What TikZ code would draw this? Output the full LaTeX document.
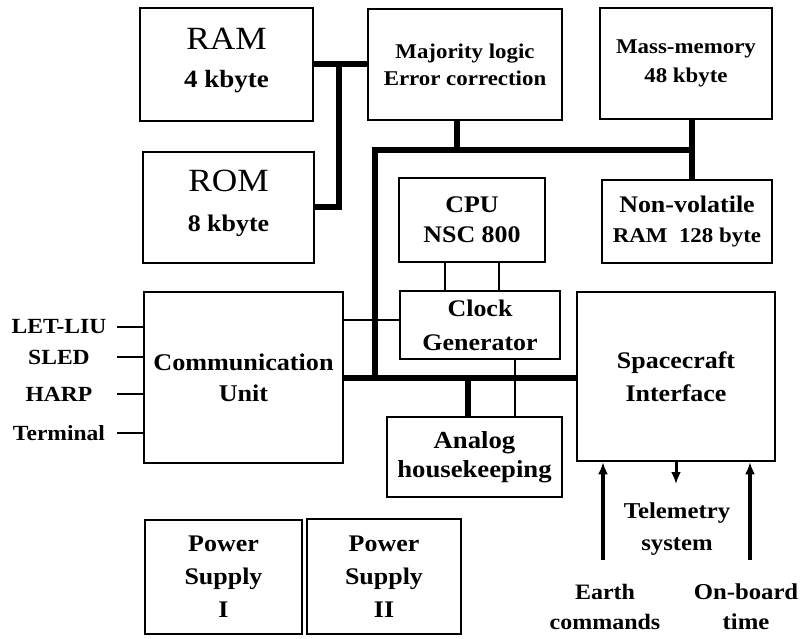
\documentclass[tikz,border=0pt]{standalone}
\usepackage{fontspec}
\setmainfont{Liberation Serif}[FakeStretch=1.09]
\usetikzlibrary{arrows.meta,calc}
\tikzset{
  box/.style={draw, line width=2.5pt, rectangle, inner sep=0pt, align=center,
              font=\bfseries\fontsize{22.7}{30}\selectfont},
  bus/.style={line width=6pt, line join=miter},
  ln/.style={line width=2.2pt},
  lbl/.style={inner sep=0pt, align=center, font=\bfseries\fontsize{21.6}{30}\selectfont},
  arr/.style={line width=3.5pt, -{Latex[length=12pt,width=10pt]}},
}
\begin{document}
\begin{tikzpicture}[x=1pt,y=-1pt]
\useasboundingbox (0,0) rectangle (806,639);

% boxes
\node[box, minimum width=173pt, minimum height=113pt, text depth=14pt, font=\fontsize{32.4}{38}\selectfont]
  (RAM) at (226.5,64.5) {RAM\\{\bfseries\fontsize{24.8}{38}\selectfont 4 kbyte}};
\node[box, minimum width=171pt, minimum height=111pt, text depth=13pt, font=\fontsize{32.4}{40}\selectfont]
  (ROM) at (228.5,207.5) {ROM\\{\bfseries\fontsize{23.8}{40}\selectfont 8 kbyte}};
\node[box, minimum width=194pt, minimum height=111pt, font=\bfseries\fontsize{21}{27}\selectfont]
  (Maj) at (465,64.5) {Majority logic\\Error correction};
\node[box, minimum width=172pt, minimum height=111pt, font=\bfseries\fontsize{21}{29}\selectfont]
  (Mass) at (686,63.5) {Mass-memory\\48 kbyte};
\node[box, minimum width=146pt, minimum height=84pt, font=\bfseries\fontsize{23.8}{30}\selectfont]
  (CPU) at (472,220) {CPU\\NSC 800};
\node[box, minimum width=170pt, minimum height=83pt, font=\bfseries\fontsize{23.8}{30}\selectfont]
  (NV) at (687,221.5) {Non-volatile\\{\fontsize{21}{30}\selectfont RAM~~128 byte}};
\node[box, minimum width=160pt, minimum height=68pt, font=\bfseries\fontsize{23.8}{34}\selectfont]
  (Clock) at (480,325) {Clock\\Generator};
\node[box, minimum width=198pt, minimum height=169pt, font=\bfseries\fontsize{23.8}{33}\selectfont]
  (SI) at (676,376.5) {Spacecraft\\Interface};
\node[box, minimum width=175pt, minimum height=80pt, font=\bfseries\fontsize{24.5}{29}\selectfont]
  (Analog) at (474.5,457) {Analog\\housekeeping};
\node[box, minimum width=199pt, minimum height=171pt, font=\bfseries\fontsize{24}{31}\selectfont]
  (Comm) at (243.5,377.5) {Communication\\Unit};
\node[box, minimum width=157pt, minimum height=114pt, font=\bfseries\fontsize{23.8}{33}\selectfont]
  (PS1) at (223.5,577) {Power\\Supply\\I};
\node[box, minimum width=154pt, minimum height=115pt, font=\bfseries\fontsize{23.8}{33}\selectfont]
  (PS2) at (384,576.5) {Power\\Supply\\II};

% left labels
\node[lbl] (LET) at (59,327) {LET-LIU};
\node[lbl] (SLED) at (59,357) {SLED};
\node[lbl] (HARP) at (59,394) {HARP};
\node[lbl] (Term) at (59,433) {Terminal};
\coordinate (l1) at (117,327);
\coordinate (l2) at (117,357);
\coordinate (l3) at (117,394);
\coordinate (l4) at (117,433);
\foreach \c in {l1,l2,l3,l4} \draw[ln] (\c) -- (\c -| Comm.west);

% bottom labels
\node[lbl, font=\bfseries\fontsize{22.7}{32}\selectfont] (Tel) at (677,529) {Telemetry\\system};
\node[lbl, font=\bfseries\fontsize{22}{30}\selectfont] (Earth) at (605,607) {Earth\\commands};
\node[lbl, font=\bfseries\fontsize{22.7}{30}\selectfont] (Onb) at (746,607) {On-board\\time};

% memory bus
\coordinate (j1) at (339,64.5);
\draw[bus] (RAM.east) -- (Maj.west);
\draw[bus] (j1) |- (ROM.east);

% main bus
\coordinate (tl) at (375,150);
\coordinate (mj) at ([xshift=-8pt]Maj.south);
\coordinate (ms) at ([xshift=6pt]Mass.south);
\draw[bus] (mj) -- (mj |- tl);
\draw[bus] (ms) -- (ms |- NV.north);
\draw[bus] (ms |- tl) -- (tl) -- (tl |- Comm.east);
\draw[bus] (Comm.east) -- (Comm.east -| SI.west);
\coordinate (an) at ([xshift=-6.5pt]Analog.north);
\draw[bus] (an) -- (an |- Comm.east);

% thin links
\coordinate (cp1) at ([xshift=-27pt]CPU.south);
\coordinate (cp2) at ([xshift=27pt]CPU.south);
\draw[ln] (cp1) -- (cp1 |- Clock.north);
\draw[ln] (cp2) -- (cp2 |- Clock.north);
\coordinate (ck) at ([yshift=5pt]Clock.west);
\draw[ln] (ck) -- (ck -| Comm.east);
\coordinate (ca) at ([xshift=35pt]Clock.south);
\draw[ln] (ca) -- (ca |- Analog.north);

% arrows
\coordinate (e1) at (603,560);
\coordinate (o1) at (750,560);
\coordinate (t1) at (676,484);
\draw[arr] (e1) -- (e1 |- SI.south);
\draw[arr] (o1) -- (o1 |- SI.south);
\draw[arr, line width=3pt] (t1 |- SI.south) -- (t1);
\end{tikzpicture}
\end{document}
